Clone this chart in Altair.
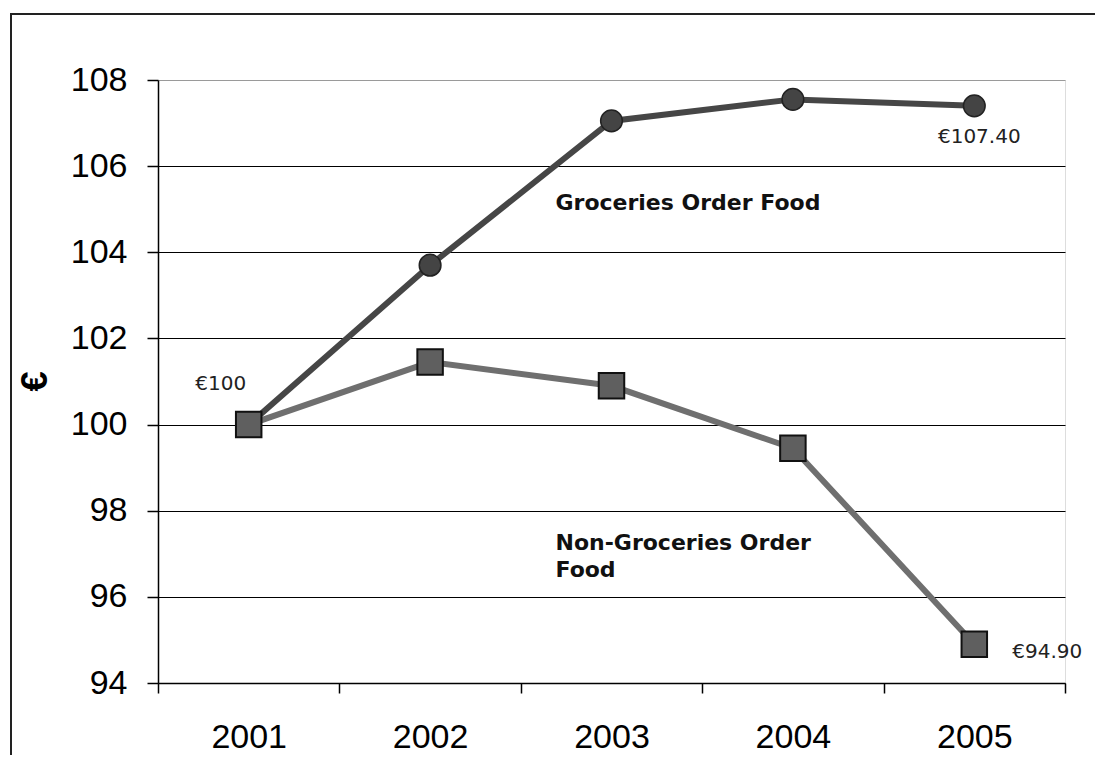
import altair as alt
import pandas as pd

years = ["2001", "2002", "2003", "2004", "2005"]
groceries = [100, 103.7, 107.05, 107.55, 107.4]
non_groceries = [100, 101.45, 100.9, 99.45, 94.9]
y_ticks = [94, 96, 98, 100, 102, 104, 106, 108]

val_labels_year = ["2001", "2005", "2005"]
val_labels_value = [100, 107.4, 94.9]
val_labels_text = ["€100", "€107.40", "€94.90"]

series_label_year = ["2003", "2003"]
series_label_value = [105.15, 97.25]
series_label_text = ["Groceries Order Food", "Non-Groceries Order\nFood"]

df_g = pd.DataFrame({"year": years, "value": groceries})
df_n = pd.DataFrame({"year": years, "value": non_groceries})

xenc = alt.X("year:N", bandPosition=0.5,
             scale=alt.Scale(type="band", domain=years, paddingInner=0, paddingOuter=0),
             axis=alt.Axis(title=None, labelAngle=0, labelFont="Liberation Sans", labelFontSize=34,
                           labelColor="black", domainColor="black", domainWidth=1.5,
                           tickColor="black", tickWidth=1.5, tickSize=10, tickBand="extent",
                           labelPadding=27, labelBaseline="top", grid=False))
yenc = alt.Y("value:Q",
             scale=alt.Scale(domain=[94, 108], nice=False, zero=False),
             axis=alt.Axis(title="€", values=y_ticks, labelFont="Liberation Sans", labelFontSize=34,
                           labelColor="black", domainColor="black", domainWidth=1.5,
                           tickColor="black", tickWidth=1.5, tickSize=11, labelPadding=20,
                           grid=True,
                           gridColor={"condition": {"test": "datum.value == 108", "value": "#9a9a9a"},
                                      "value": "black"},
                           gridWidth=1.2,
                           titleFont="Liberation Sans", titleFontSize=36, titleFontWeight="bold",
                           titleColor="black", titleAngle=270, titleX=-123, titleY=301,
                           titleAlign="center", titleBaseline="middle"))

line_g = alt.Chart(df_g).mark_line(color="#464646", strokeWidth=6).encode(x=xenc, y=yenc)
line_n = alt.Chart(df_n).mark_line(color="#6f6f6f", strokeWidth=6).encode(x=xenc, y=yenc)
pts_g = alt.Chart(df_g).mark_point(shape="circle", filled=True, size=470, color="#444444",
                                   stroke="#222222", strokeWidth=1.5, opacity=1).encode(x=xenc, y=yenc)
pts_n = alt.Chart(df_n).mark_point(shape="square", filled=True, size=650, color="#5f5f5f",
                                   stroke="#111111", strokeWidth=2, opacity=1).encode(x=xenc, y=yenc)

def ann(i, **kw):
    d = pd.DataFrame({"year": [val_labels_year[i]], "value": [val_labels_value[i]],
                      "t": [val_labels_text[i]]})
    return alt.Chart(d).mark_text(font="DejaVu Sans", fontSize=20, color="#222222", **kw).encode(
        x=alt.X("year:N", bandPosition=0.5), y="value:Q", text="t:N")

a100 = ann(0, align="center", baseline="middle", dx=-28, dy=-41)
a107 = ann(1, align="center", baseline="middle", dx=5, dy=31)
a94 = ann(2, align="left", baseline="middle", dx=38, dy=8)

d_s1 = pd.DataFrame({"year": [series_label_year[0]], "value": [series_label_value[0]],
                     "t": [series_label_text[0]]})
d_s2 = pd.DataFrame({"year": [series_label_year[1]], "value": [series_label_value[1]],
                     "t": [series_label_text[1].split("\n")]})
s1 = alt.Chart(d_s1).mark_text(font="DejaVu Sans", fontSize=22, fontWeight="bold", color="#111111",
                               align="left", baseline="middle", dx=-56).encode(
    x=alt.X("year:N", bandPosition=0.5), y="value:Q", text="t:N")
s2 = alt.Chart(d_s2).mark_text(font="DejaVu Sans", fontSize=22, fontWeight="bold", color="#111111",
                               align="left", baseline="middle", dx=-56, lineHeight=27).encode(
    x=alt.X("year:N", bandPosition=0.5), y="value:Q", text="t")

border_left = alt.Chart(pd.DataFrame({"a": [0]})).mark_rule(color="#222222", strokeWidth=2).encode(
    x=alt.value(-147), y=alt.value(-66), y2=alt.value(700))
border_top = alt.Chart(pd.DataFrame({"a": [0]})).mark_rule(color="#222222", strokeWidth=2).encode(
    x=alt.value(-148), x2=alt.value(960), y=alt.value(-66))

chart = alt.layer(line_g, line_n, pts_g, pts_n, a100, a107, a94, s1, s2, border_left, border_top).properties(
    width=907, height=603,
    autosize=alt.AutoSizeParams(type="none"),
    padding={"left": 150, "top": 72, "right": 30, "bottom": 72},
).configure_view(stroke="#9a9a9a", strokeWidth=2).configure(background="white")

chart.save("out.html", embed_options={"renderer": "svg", "actions": False})
